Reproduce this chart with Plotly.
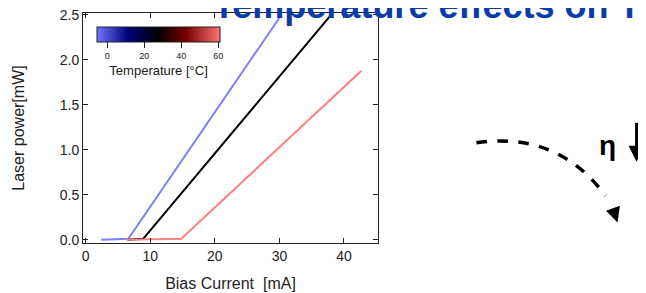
import plotly.graph_objects as go

# ---- data ----
current_cold = [2.4, 6.6, 30.3]
power_cold = [0.0, 0.01, 2.5]
current_room = [6.5, 8.9, 38.0]
power_room = [0.0, 0.01, 2.5]
current_hot = [6.3, 14.8, 42.7]
power_hot = [0.0, 0.01, 1.88]
temp_cold, temp_room, temp_hot = -5.5, 27.0, 61.0

x_ticks = [0, 10, 20, 30, 40]
y_ticks = [0.0, 0.5, 1.0, 1.5, 2.0, 2.5]
cbar_ticks = [0, 20, 40, 60]

W, H = 646, 293
OFF = 8  # page body margin of the browser
# plot area edges in screen pixels
SL, SR, ST, SB = 83, 377.7, 13, 243.3
L, R, T, B = SL - OFF, SR - OFF, ST - OFF, SB - OFF
FONT = "Liberation Sans, Arial, sans-serif"

colorscale = [
    [0.0, "#7474ff"],
    [0.25, "#00007a"],
    [0.5, "#000000"],
    [0.73, "#7a0000"],
    [1.0, "#ff7474"],
]

def px(xs):
    return (xs - SL) / (SR - SL)

def py(ys):
    return (SB - ys) / (SB - ST)

fig = go.Figure()
fig.add_trace(go.Scatter(x=current_cold, y=power_cold, mode="lines",
                         line=dict(color="#7f7fff", width=2), showlegend=False))
fig.add_trace(go.Scatter(x=current_room, y=power_room, mode="lines",
                         line=dict(color="#000000", width=2), showlegend=False))
fig.add_trace(go.Scatter(x=current_hot, y=power_hot, mode="lines",
                         line=dict(color="#ff7f7f", width=2), showlegend=False))

# invisible trace carrying the colour bar
fig.add_trace(go.Scatter(
    x=[None], y=[None], mode="markers", showlegend=False, hoverinfo="skip",
    marker=dict(color=[temp_cold], cmin=temp_cold, cmax=temp_hot,
                colorscale=colorscale, showscale=True,
                colorbar=dict(
                    orientation="h", x=px(158.5), xanchor="center",
                    y=py(27), yanchor="top", len=123, lenmode="pixels",
                    thickness=15, thicknessmode="pixels", xpad=0, ypad=0,
                    outlinecolor="#222", outlinewidth=1,
                    tickvals=cbar_ticks, ticks="outside", ticklen=6,
                    tickcolor="#222",
                    tickfont=dict(size=9, family=FONT, color="#222"),
                    title=dict(text="Temperature [°C]", side="bottom",
                               font=dict(size=13, family=FONT, color="#222")),
                )),
))

axis_common = dict(showgrid=False, zeroline=False, showline=True,
                   linecolor="#222", linewidth=1, mirror="ticks",
                   ticks="inside", ticklen=5, tickcolor="#222", automargin=False,
                   ticklabeloverflow="allow",
                   tickfont=dict(size=14, family=FONT, color="#222"))

fig.update_xaxes(range=[-0.42, 45.27], tickvals=x_ticks,
                 title=dict(text="Bias Current  [mA]", standoff=15,
                            font=dict(size=16, family=FONT, color="#222")),
                 **axis_common)
fig.update_yaxes(range=[-0.037, 2.522], tickvals=y_ticks, tickformat=".1f",
                 title=dict(text="Laser power[mW]", standoff=31,
                            font=dict(size=16, family=FONT, color="#222")),
                 **axis_common)

# title (partially cut off at the top)
fig.add_annotation(text="<b>Temperature effects on T</b>", xref="paper", yref="paper",
                   x=px(211), y=1.0, xanchor="left", yanchor="bottom", yshift=-15,
                   showarrow=False,
                   font=dict(size=36, family=FONT, color="#0b3ba6"))

# eta annotation
fig.add_annotation(text="<b>η</b>", xref="paper", yref="paper",
                   x=px(607), y=py(146), xanchor="center", yanchor="middle",
                   showarrow=False, font=dict(size=28, family=FONT, color="#000"))

# down arrow next to eta
fig.add_shape(type="line", xref="paper", yref="paper",
              x0=px(636), y0=py(123), x1=px(636), y1=py(150),
              line=dict(color="#000", width=3))
fig.add_shape(type="path", xref="paper", yref="paper",
              path=f"M {px(628)} {py(146)} L {px(644)} {py(146)} L {px(636)} {py(162)} Z",
              fillcolor="#000", line=dict(color="#000", width=0))

# dashed curved arrow
fig.add_shape(type="path", xref="paper", yref="paper",
              path=f"M {px(476)} {py(143)} Q {px(557)} {py(131)} {px(605)} {py(196)}",
              line=dict(color="#000", width=3.5, dash="dash"))
fig.add_shape(type="path", xref="paper", yref="paper",
              path=f"M {px(605.5)} {py(211)} L {px(619.3)} {py(206)} L {px(617)} {py(222.7)} Z",
              fillcolor="#000", line=dict(color="#000", width=0))

fig.update_layout(
    width=W, height=H,
    margin=dict(l=L, r=W - R, t=T, b=H - B, pad=0, autoexpand=False),
    plot_bgcolor="white", paper_bgcolor="white",
    font=dict(family=FONT, color="#222"),
)

fig.write_html("out.html")
